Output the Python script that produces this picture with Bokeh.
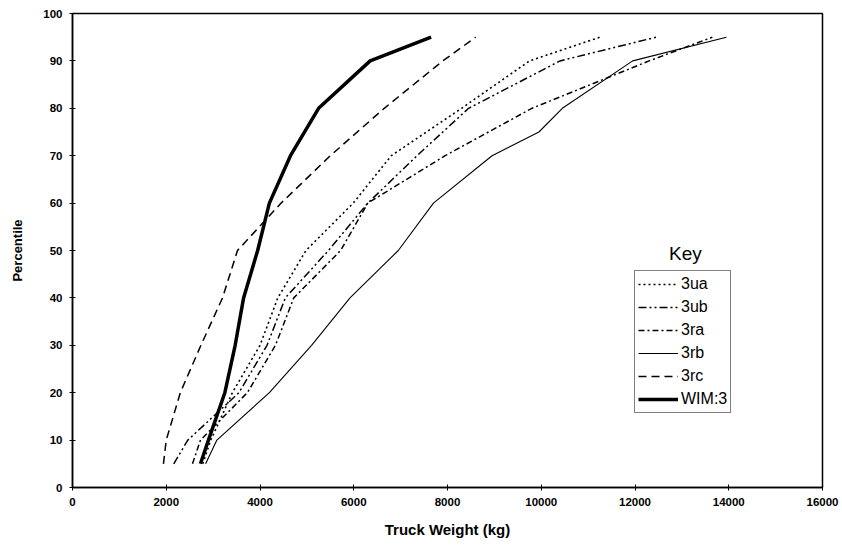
from bokeh.plotting import figure
from bokeh.models import Range1d, SingleIntervalTicker, Legend, LegendItem, Label
from bokeh.embed import file_html
from bokeh.resources import INLINE

# Percentile levels (y) and truck weights in kg (x)
pct_common = [5, 10, 20, 30, 40, 50, 60, 70, 80, 90, 95]
pct_3rb = [5, 10, 20, 30, 40, 50, 60, 70, 75, 80, 90, 95]

w_3ua = [2780, 2950, 3410, 4000, 4380, 4980, 5990, 6800, 8300, 9750, 11250]
w_3ub = [2160, 2460, 3550, 4150, 4540, 5460, 6300, 7350, 8450, 10400, 12450]
w_3ra = [2560, 2730, 3730, 4330, 4720, 5720, 6300, 7950, 9800, 12300, 13650]
w_3rb = [2840, 3080, 4200, 5100, 5920, 6950, 7700, 8950, 9950, 10450, 11950, 13950]
w_3rc = [1940, 2000, 2300, 2740, 3200, 3520, 4450, 5500, 6650, 7900, 8600]
w_wim = [2730, 2900, 3250, 3470, 3650, 3950, 4200, 4650, 5250, 6350, 7650]

series = [
    ("3ua", w_3ua, pct_common, dict(line_width=1.6, line_dash="2 3")),
    ("3ub", w_3ub, pct_common, dict(line_width=1.5, line_dash="8 3 2 3 2 3")),
    ("3ra", w_3ra, pct_common, dict(line_width=1.5, line_dash="6 3 2 3")),
    ("3rb", w_3rb, pct_3rb, dict(line_width=1.1)),
    ("3rc", w_3rc, pct_common, dict(line_width=1.5, line_dash="8 5")),
    ("WIM:3", w_wim, pct_common, dict(line_width=3.5)),
]

FONT = "Liberation Sans"

p = figure(width=842, height=546, output_backend="svg", toolbar_location=None,
           x_range=Range1d(0, 16000), y_range=Range1d(0, 100))
p.min_border_left = 72
p.min_border_right = 20
p.min_border_top = 13
p.min_border_bottom = 59
p.xgrid.visible = False
p.ygrid.visible = False
p.outline_line_color = "black"
p.outline_line_width = 1.5
p.background_fill_color = "white"
p.border_fill_color = "white"

p.xaxis.ticker = SingleIntervalTicker(interval=2000)
p.yaxis.ticker = SingleIntervalTicker(interval=10)
for ax in (p.xaxis[0], p.yaxis[0]):
    ax.minor_tick_line_color = None
    ax.major_tick_in = 3
    ax.major_tick_out = 3
    ax.axis_line_width = 1.5
    ax.axis_line_color = "black"
    ax.major_tick_line_color = "black"
    ax.major_label_text_font = FONT
    ax.major_label_text_font_style = "bold"
    ax.major_label_text_font_size = "11.5px"
    ax.major_label_text_color = "black"
    ax.axis_label_text_font = FONT
    ax.axis_label_text_font_style = "bold"
    ax.axis_label_text_color = "black"

p.xaxis.axis_label = "Truck Weight (kg)"
p.xaxis.axis_label_text_font_size = "15px"
p.xaxis.axis_label_standoff = 12
p.xaxis.major_label_standoff = 6
p.yaxis.axis_label = "Percentile"
p.yaxis.axis_label_text_font_size = "13px"
p.yaxis.axis_label_standoff = 15
p.yaxis.major_label_standoff = 6

items = []
for name, xs, ys, style in series:
    r = p.line(xs, ys, line_color="black", **style)
    items.append(LegendItem(label=name, renderers=[r]))

legend = Legend(items=items, location=(562, 74))
legend.glyph_width = 40
legend.glyph_height = 20
legend.label_height = 20
legend.spacing = 3
legend.padding = 3
legend.margin = 0
legend.label_standoff = 3
legend.label_text_font = FONT
legend.label_text_font_size = "16px"
legend.label_text_color = "black"
legend.border_line_color = "black"
legend.border_line_width = 1.5
legend.background_fill_alpha = 1.0
p.add_layout(legend, "center")

key = Label(x=13077, y=49.4, text="Key", text_font=FONT, text_font_size="19px",
            text_align="center", text_baseline="middle", text_color="black")
p.add_layout(key)

open("out.html", "w").write(file_html(p, INLINE))
